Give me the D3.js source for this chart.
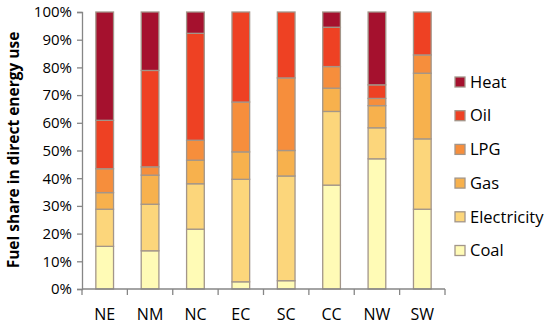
<!DOCTYPE html>
<html>
<head>
<meta charset="utf-8">
<script src="https://cdn.jsdelivr.net/npm/d3@7/dist/d3.min.js"></script>
<style>
html,body{margin:0;padding:0;background:#fff;}
svg{display:block;font-family:"Open Sans",sans-serif;}
</style>
</head>
<body>
<svg id="chart" width="550" height="327"></svg>
<script>
const categories = ["NE","NM","NC","EC","SC","CC","NW","SW"];
const coal        = [15.4, 13.8, 21.6,  2.6,  3.0, 37.5, 47.0, 28.8];
const electricity = [13.4, 16.8, 16.4, 37.0, 37.8, 26.6, 11.2, 25.4];
const gas         = [ 6.0, 10.5,  8.5,  9.9,  9.2,  8.4,  8.0, 23.7];
const lpg         = [ 8.6,  3.0,  7.2, 18.0, 26.2,  7.8,  2.6,  6.6];
const oil         = [17.5, 34.8, 38.6, 32.5, 23.8, 14.2,  4.9, 15.5];
const heat        = [39.1, 21.1,  7.7,  0.0,  0.0,  5.5, 26.3,  0.0];
const seriesNames = ["Coal","Electricity","Gas","LPG","Oil","Heat"];
const yTicks = [0,10,20,30,40,50,60,70,80,90,100];

const colors = {Coal:"#FFFBB6", Electricity:"#FCD67B", Gas:"#F7B14D", LPG:"#F68E3C", Oil:"#EE4123", Heat:"#A5112E"};
const seriesVals = {Coal:coal, Electricity:electricity, Gas:gas, LPG:lpg, Oil:oil, Heat:heat};

const rows = categories.map((c,i)=>{
  const r={cat:c};
  seriesNames.forEach(s=>r[s]=seriesVals[s][i]);
  return r;
});

const svg = d3.select("#chart");
const x = d3.scaleBand().domain(categories).range([82,445]);
const y = d3.scaleLinear().domain([0,100]).range([289,12]);

const stack = d3.stack().keys(seriesNames)(rows);
const barW = x.bandwidth()*0.39;

const g = svg.append("g");
stack.forEach(layer=>{
  g.selectAll(null).data(layer.filter(d=>d[1]-d[0]>0)).enter().append("rect")
    .attr("x", d=>x(d.data.cat)+x.bandwidth()/2-barW/2)
    .attr("y", d=>y(d[1]))
    .attr("width", barW)
    .attr("height", d=>y(d[0])-y(d[1]))
    .attr("fill", colors[layer.key])
    .attr("stroke", "#A3968A")
    .attr("stroke-width", 1.3);
});

// Y axis
const yAxis = d3.axisLeft(y).tickValues(yTicks).tickFormat(d=>d+"%").tickSize(5).tickPadding(5);
const ya = svg.append("g").attr("transform","translate(82,0)").call(yAxis);
ya.select(".domain").attr("stroke","#868686").attr("stroke-width",1.3);
ya.selectAll(".tick line").attr("stroke","#868686").attr("stroke-width",1.3);
ya.selectAll("text").attr("font-size",15).attr("fill","#000").attr("font-family","'Open Sans',sans-serif");

// X axis
const xa = svg.append("g").attr("transform","translate(0,289)");
xa.append("line").attr("x1",82).attr("x2",445).attr("stroke","#868686").attr("stroke-width",1.3);
const bounds = categories.map(c=>x(c)).concat([x(categories[categories.length-1])+x.bandwidth()]);
xa.selectAll(".xt").data(bounds).enter().append("line")
  .attr("x1",d=>d).attr("x2",d=>d).attr("y1",0).attr("y2",6)
  .attr("stroke","#868686").attr("stroke-width",1.3);
xa.selectAll(".xl").data(categories).enter().append("text")
  .attr("x",d=>x(d)+x.bandwidth()/2).attr("y",31)
  .attr("text-anchor","middle").attr("font-size",16).attr("fill","#000")
  .text(d=>d);

// Y label
svg.append("text")
  .attr("transform","translate(19,150) rotate(-90)")
  .attr("text-anchor","middle")
  .attr("font-size",15.5).attr("font-weight","bold").attr("fill","#000")
  .text("Fuel share in direct energy use");

// Legend
const legendOrder = ["Heat","Oil","LPG","Gas","Electricity","Coal"];
const lg = svg.append("g");
legendOrder.forEach((s,i)=>{
  const cy = 82 + i*33.7;
  lg.append("rect").attr("x",455).attr("y",cy-5).attr("width",10).attr("height",10)
    .attr("fill",colors[s]).attr("stroke","#A3968A").attr("stroke-width",1.3);
  lg.append("text").attr("x",470).attr("y",cy).attr("dy","0.35em")
    .attr("font-size",16.5).attr("fill","#000").text(s);
});
</script>
</body>
</html>
